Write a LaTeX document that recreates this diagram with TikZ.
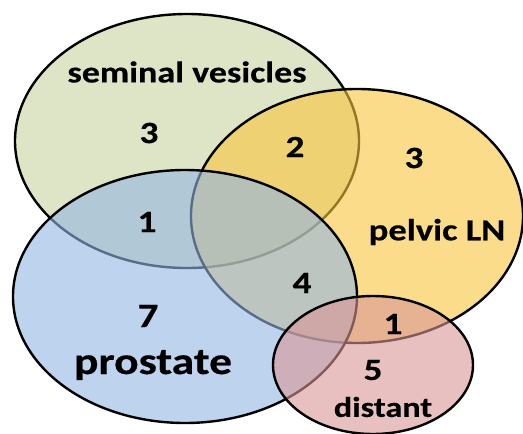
\documentclass[tikz,border=0pt]{standalone}
\usepackage{fontspec}
\setmainfont{Carlito}
\newfontfamily\lblfont{Carlito}[UprightFont={* Bold},FakeBold=0.4]
\definecolor{svcol}{RGB}{200,210,160}
\definecolor{lncol}{RGB}{247,197,60}
\definecolor{prcol}{RGB}{147,182,227}
\definecolor{dicol}{RGB}{217,150,150}
\begin{document}
\begin{tikzpicture}[x=1pt,y=-1pt,
  region/.style={line width=2.4pt, draw=black, fill opacity=0.6},
  lbl/.style={font=\lblfont\fontsize{#1}{#1}\selectfont, inner sep=0pt, text=black, xscale=1.2, transform shape}]
\useasboundingbox (0,0) rectangle (523,434);
\fill[white] (0,0) rectangle (523,434);
\path[region, fill=svcol] (187,141) ellipse [x radius=172pt, y radius=127pt];
\path[region, fill=lncol] (357,216) ellipse [x radius=166pt, y radius=127pt];
\path[region, fill=prcol] (185,296.5) ellipse [x radius=172pt, y radius=126.5pt];
\path[region, fill=dicol] (373,365) ellipse [x radius=100pt, y radius=69pt];
\node[lbl=30] (sv) at (187,72) {seminal vesicles};
\node[lbl=31] (nsv) at (149,133) {3};
\node[lbl=31] (nsvln) at (295,147) {2};
\node[lbl=31] (nln) at (414,158) {3};
\node[lbl=31] (nsvpr) at (147,222) {1};
\node[lbl=30.5] (ln) at (437,232) {pelvic LN};
\node[lbl=31] (nprln) at (302,283) {4};
\node[lbl=34] (npr) at (148,316) {7};
\node[lbl=38] (pr) at (153,365) {prostate};
\node[lbl=31] (nlndi) at (393,324) {1};
\node[lbl=31] (ndi) at (373,370) {5};
\node[lbl=28.5] (di) at (383,407) {distant};
\end{tikzpicture}
\end{document}
